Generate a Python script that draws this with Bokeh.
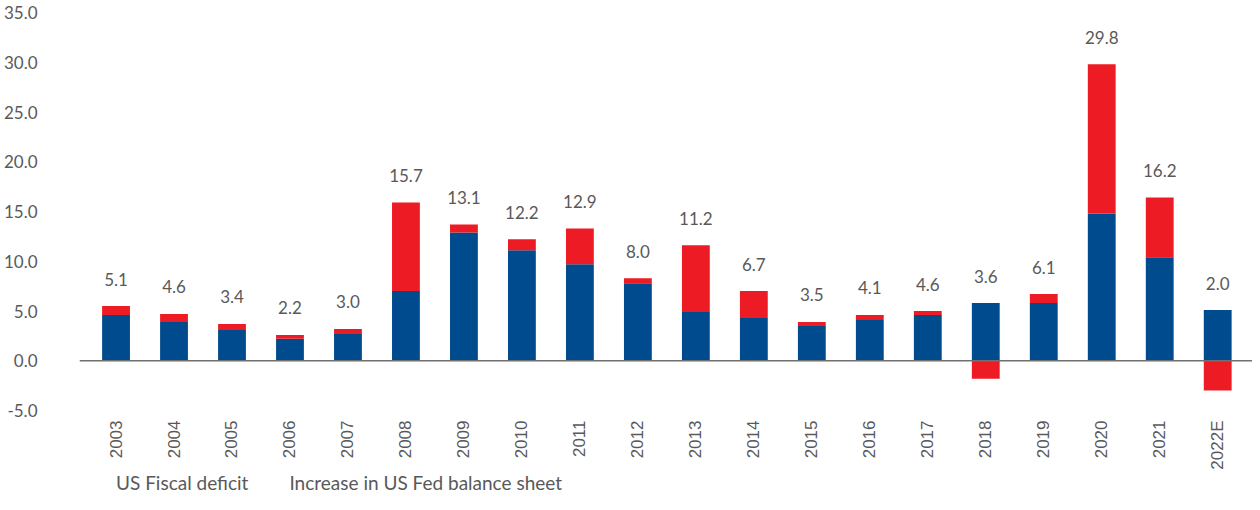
import math
from bokeh.plotting import figure
from bokeh.layouts import column
from bokeh.models import (ColumnDataSource, Range1d, FixedTicker, Span, Legend, LegendItem)
from bokeh.core.properties import value
from bokeh.embed import file_html
from bokeh.resources import INLINE

years = ["2003", "2004", "2005", "2006", "2007", "2008", "2009", "2010", "2011", "2012",
         "2013", "2014", "2015", "2016", "2017", "2018", "2019", "2020", "2021", "2022E"]
fiscal_deficit = [4.6, 3.9, 3.1, 2.2, 2.7, 7.0, 12.9, 11.1, 9.7, 7.8,
                  4.9, 4.3, 3.5, 4.1, 4.6, 5.8, 5.8, 14.8, 10.4, 5.1]
fed_increase = [0.9, 0.8, 0.6, 0.4, 0.5, 8.9, 0.8, 1.1, 3.6, 0.5,
                6.7, 2.7, 0.4, 0.5, 0.4, -1.8, 0.9, 15.0, 6.0, -3.0]
total_labels = ["5.1", "4.6", "3.4", "2.2", "3.0", "15.7", "13.1", "12.2", "12.9", "8.0",
                "11.2", "6.7", "3.5", "4.1", "4.6", "3.6", "6.1", "29.8", "16.2", "2.0"]
series_names = ["US Fiscal deficit", "Increase in US Fed balance sheet"]

BLUE = "#004B8D"
RED = "#ED1C24"
GREY = "#595959"

x = list(range(len(years)))
red_bottom = [f if r >= 0 else 0 for f, r in zip(fiscal_deficit, fed_increase)]
red_top = [f + r if r >= 0 else r for f, r in zip(fiscal_deficit, fed_increase)]
label_y = [max(f, f + r) for f, r in zip(fiscal_deficit, fed_increase)]

src = ColumnDataSource(dict(x=x, fiscal=fiscal_deficit, rb=red_bottom, rt=red_top,
                            ly=label_y, lab=total_labels))

p = figure(width=1252, height=472, output_backend="svg", toolbar_location=None,
           x_range=Range1d(-0.63, 19.6), y_range=Range1d(-5, 35),
           min_border_left=71, min_border_right=0, min_border_top=12, min_border_bottom=0)
p.outline_line_color = None
p.xgrid.visible = False
p.ygrid.visible = False

blue = p.vbar(x="x", top="fiscal", bottom=0, width=0.48, color=BLUE, line_color=None, source=src)
red = p.vbar(x="x", top="rt", bottom="rb", width=0.48, color=RED, line_color=None, source=src)

p.add_layout(Span(location=0, dimension="width", line_color="#707070", line_width=1.5))

p.text(x="x", y="ly", text="lab", source=src, y_offset=-27, text_align="center",
       text_baseline="middle", text_font=value("Lato"), text_font_size="17px", text_color=GREY)

# Y axis
yt = [-5, 0, 5, 10, 15, 20, 25, 30, 35]
p.yaxis.ticker = FixedTicker(ticks=yt)
p.yaxis.major_label_overrides = {t: f"{t:.1f}" for t in yt}
p.yaxis.axis_line_color = None
p.yaxis.major_tick_line_color = None
p.yaxis.minor_tick_line_color = None
p.yaxis.major_label_standoff = 36
p.yaxis.major_label_text_font = "Lato"
p.yaxis.major_label_text_font_size = "17px"
p.yaxis.major_label_text_color = GREY

# X axis
p.xaxis.ticker = FixedTicker(ticks=x)
p.xaxis.major_label_overrides = {i: y for i, y in zip(x, years)}
p.xaxis.major_label_orientation = math.pi / 2
p.xaxis.axis_line_color = None
p.xaxis.major_tick_line_color = None
p.xaxis.minor_tick_line_color = None
p.xaxis.major_label_standoff = 4
p.xaxis.major_label_text_font = "Liberation Sans"
p.xaxis.major_label_text_font_size = "17px"
p.xaxis.major_label_text_color = GREY

# Legend strip: a second figure whose swatch renderers have no data (nothing drawn in it)
empty = ColumnDataSource(dict(x=[], top=[]))
lf = figure(width=1252, height=22, output_backend="svg", toolbar_location=None,
            x_range=Range1d(0, 1), y_range=Range1d(0, 1),
            x_axis_type=None, y_axis_type=None,
            min_border_left=0, min_border_right=0, min_border_top=0, min_border_bottom=0)
lf.outline_line_color = None
lf.xgrid.visible = False
lf.ygrid.visible = False
lb = lf.vbar(x="x", top="top", bottom=0, width=0.5, color=BLUE, line_color=None, source=empty)
lr = lf.vbar(x="x", top="top", bottom=0, width=0.5, color=RED, line_color=None, source=empty)
legend = Legend(items=[LegendItem(label=series_names[0], renderers=[lb]),
                       LegendItem(label=series_names[1], renderers=[lr])],
                orientation="horizontal", location=(16, 0),
                glyph_width=14, glyph_height=14, label_standoff=7, spacing=20,
                padding=2, margin=0, border_line_color=None, background_fill_alpha=0,
                label_text_font="Lato", label_text_font_size="19px", label_text_color=GREY)
lf.add_layout(legend)

open("out.html", "w").write(file_html(column(p, lf, spacing=0), INLINE))
